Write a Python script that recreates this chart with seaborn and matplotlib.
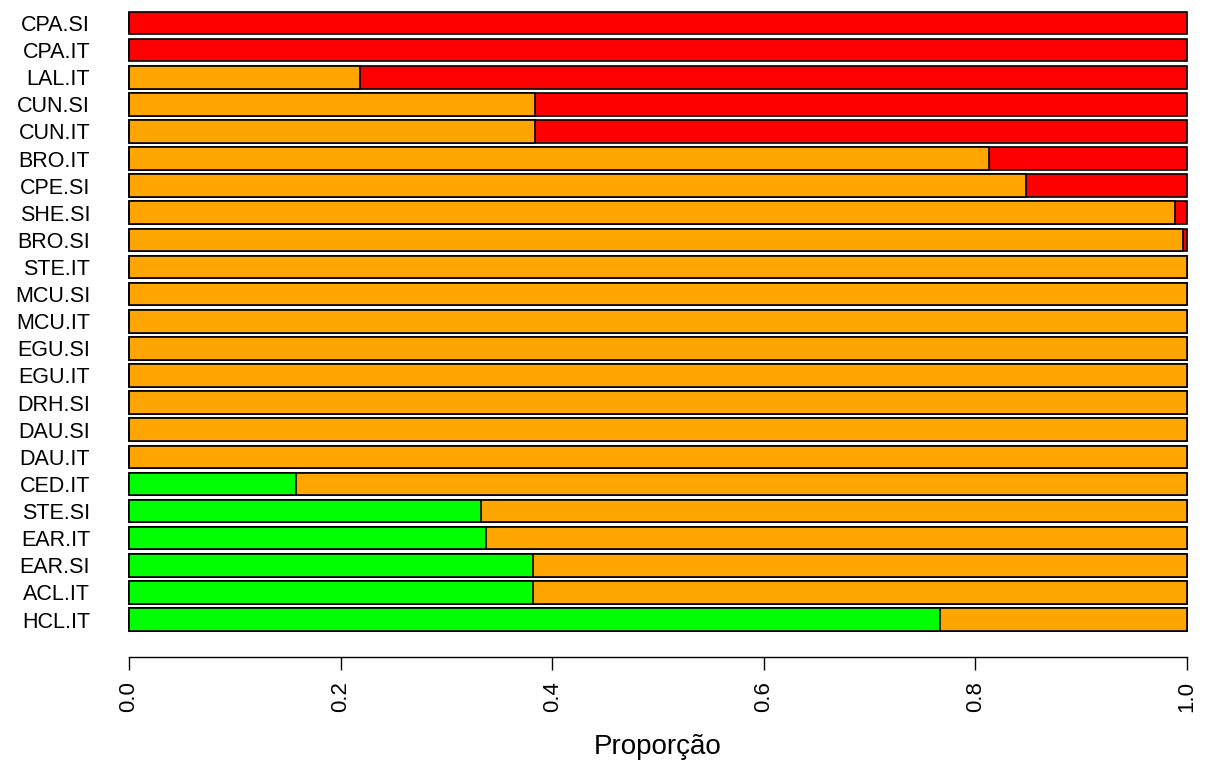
import numpy as np
import pandas as pd
import matplotlib
matplotlib.use("Agg")
import matplotlib.pyplot as plt
import seaborn as sns

# categories from top to bottom
cats = ["CPA.SI", "CPA.IT", "LAL.IT", "CUN.SI", "CUN.IT", "BRO.IT", "CPE.SI",
        "SHE.SI", "BRO.SI", "STE.IT", "MCU.SI", "MCU.IT", "EGU.SI", "EGU.IT",
        "DRH.SI", "DAU.SI", "DAU.IT", "CED.IT", "STE.SI", "EAR.IT", "EAR.SI",
        "ACL.IT", "HCL.IT"]
verde = [0, 0, 0, 0, 0, 0, 0, 0, 0, 0, 0, 0, 0, 0, 0, 0, 0,
         0.158, 0.333, 0.337, 0.382, 0.382, 0.767]
laranja = [0, 0, 0.218, 0.384, 0.384, 0.813, 0.848, 0.989, 0.996, 1, 1, 1, 1, 1,
           1, 1, 1, 0.842, 0.667, 0.663, 0.618, 0.618, 0.233]
vermelho = [1, 1, 0.782, 0.616, 0.616, 0.187, 0.152, 0.011, 0.004, 0, 0, 0, 0, 0,
            0, 0, 0, 0, 0, 0, 0, 0, 0]
ticks = [0.0, 0.2, 0.4, 0.6, 0.8, 1.0]

df = pd.DataFrame({"cat": cats, "g": verde, "o": laranja, "r": vermelho})
df["fim_o"] = df["g"] + df["o"]
df["fim_r"] = df["fim_o"] + df["r"]

sns.set_style("white")
plt.rcParams["font.family"] = ["Liberation Sans", "DejaVu Sans"]
plt.rcParams["text.color"] = "black"
plt.rcParams["axes.labelcolor"] = "black"
plt.rcParams["xtick.color"] = "black"
plt.rcParams["ytick.color"] = "black"

fig = plt.figure(figsize=(12.10, 7.67), dpi=100)
ax = fig.add_axes([129 / 1210, 1 - 657 / 767, (1187 - 129) / 1210, 657 / 767])

kw = dict(y="cat", order=cats, orient="h", edgecolor="black", linewidth=1.2,
          width=0.833, ax=ax, saturation=1)
sns.barplot(data=df, x="fim_r", color="#FF0000", **kw)
sns.barplot(data=df, x="fim_o", color="#FFA500", **kw)
sns.barplot(data=df, x="g", color="#00FF00", **kw)
for p in ax.patches:
    p.set_clip_on(False)

ax.set_xlim(0, 1)
ax.set_ylim(23.383, -0.848)
ax.set_xticks(ticks)
ax.set_xticklabels(["%.1f" % t for t in ticks], rotation=90, fontsize=16)
ax.tick_params(axis="x", length=9.4, width=1.0, pad=8, colors="black", bottom=True)
ax.tick_params(axis="y", length=0, pad=28, labelsize=15.5, colors="black")
for s in ["left", "top", "right"]:
    ax.spines[s].set_visible(False)
ax.spines["bottom"].set_color("black")
ax.spines["bottom"].set_linewidth(1.0)
ax.set_ylabel("")
ax.set_xlabel("Proporção", fontsize=20, labelpad=16, color="black")

fig.savefig("out.png", dpi=100)
